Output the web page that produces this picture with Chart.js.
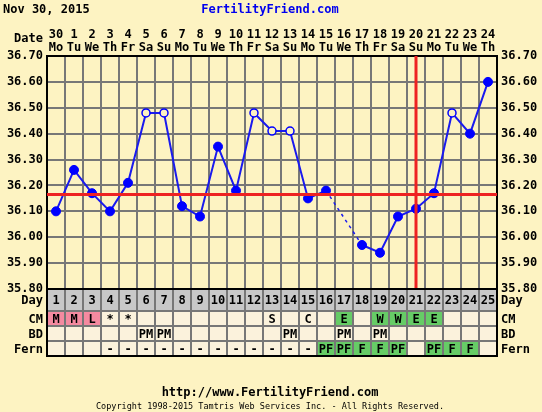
<!DOCTYPE html>
<html>
<head>
<meta charset="utf-8">
<script src="https://cdn.jsdelivr.net/npm/chart.js@4"></script>
<style>
  html, body { margin: 0; padding: 0; background: #fdf3c2; }
  #wrap { width: 542px; height: 412px; position: relative; }
</style>
</head>
<body>
<div id="wrap"><canvas id="chart" width="542" height="412"></canvas></div>
<script>
// chart values
const dates = ['30','1','2','3','4','5','6','7','8','9','10','11','12','13','14','15','16','17','18','19','20','21','22','23','24'];
const weekdays = ['Mo','Tu','We','Th','Fr','Sa','Su','Mo','Tu','We','Th','Fr','Sa','Su','Mo','Tu','We','Th','Fr','Sa','Su','Mo','Tu','We','Th'];
const temps = [36.10, 36.26, 36.17, 36.10, 36.21, 36.48, 36.48, 36.12, 36.08, 36.35, 36.18, 36.48, 36.41, 36.41, 36.15, 36.18, null, 35.97, 35.94, 36.08, 36.11, 36.17, 36.48, 36.40, 36.60];
const openDays = [6, 7, 12, 13, 14, 23];   // cycle days with hollow markers
const coverline = 36.165;
const ovulationDay = 21;
const cmRow   = ['M','M','L','*','*','','','','','','','','S','','C','','E','','W','W','E','E','','',''];
const bdRow   = ['','','','','','PM','PM','','','','','','','PM','','','PM','','PM','','','','','',''];
const fernRow = ['','','','-','-','-','-','-','-','-','-','-','-','-','-','PF','PF','F','F','PF','','PF','F','F',''];
const yTickLabels = ['35.80','35.90','36.00','36.10','36.20','36.30','36.40','36.50','36.60','36.70'];

const BG = '#fdf3c2';
const FONT = '"DejaVu Sans Mono", monospace';
const labels = dates.map((d, i) => [d, weekdays[i]]);
const isOpen = temps.map((t, i) => openDays.includes(i + 1));

function tickText(v) {
    const s = v.toFixed(2);
    return yTickLabels.includes(s) ? s : '';
}

// red coverline, ovulation line, header texts and the bottom table
const extras = {
    id: 'extras',
    afterDatasetsDraw(chart) {
        const { ctx, chartArea: a, scales } = chart;
        const y = scales.y.getPixelForValue(coverline);
        const x = scales.x.getPixelForValue(ovulationDay - 1);
        ctx.save();
        ctx.strokeStyle = '#ee2222';
        ctx.lineWidth = 3;
        ctx.beginPath();
        ctx.moveTo(a.left, y); ctx.lineTo(a.right, y);
        ctx.moveTo(x, a.top); ctx.lineTo(x, a.bottom);
        ctx.stroke();
        ctx.restore();
    },
    afterDraw(chart) {
        const { ctx, chartArea: a, scales } = chart;
        const xs = scales.x;
        const colW = xs.getPixelForValue(1) - xs.getPixelForValue(0);
        ctx.save();
        ctx.textBaseline = 'middle';

        ctx.font = 'bold 12px ' + FONT;
        ctx.fillStyle = '#000';
        ctx.textAlign = 'left';
        ctx.fillText('Nov 30, 2015', 3, 10);
        ctx.textAlign = 'center';
        ctx.fillStyle = '#0000ee';
        ctx.fillText('FertilityFriend.com', 270, 10);
        ctx.fillStyle = '#000';
        ctx.textAlign = 'right';
        ctx.fillText('Date', a.left - 4, 39);

        // table rows
        const rows = [
            { name: 'Day', top: a.bottom, h: 22, vals: dates.map((d, i) => String(i + 1)) },
            { name: 'CM', top: a.bottom + 22, h: 15, vals: cmRow },
            { name: 'BD', top: a.bottom + 37, h: 15, vals: bdRow },
            { name: 'Fern', top: a.bottom + 52, h: 15, vals: fernRow }
        ];
        rows.forEach((r, ri) => {
            r.vals.forEach((v, i) => {
                const cx = xs.getPixelForValue(i);
                let fill = '#fbf2dc';
                if (ri === 0) fill = '#c8c8c8';
                else if (ri === 1 && (v === 'M' || v === 'L')) fill = '#f48aa0';
                else if ((ri === 1 && (v === 'E' || v === 'W')) || (ri === 3 && (v === 'F' || v === 'PF'))) fill = '#66cc66';
                ctx.fillStyle = fill;
                ctx.fillRect(cx - colW / 2, r.top, colW, r.h);
                ctx.fillStyle = '#000';
                ctx.textAlign = 'center';
                ctx.fillText(v, cx, r.top + r.h / 2 + 1);
            });
            ctx.textAlign = 'right';
            ctx.fillText(r.name, a.left - 4, r.top + r.h / 2 + 1);
            ctx.textAlign = 'left';
            ctx.fillText(r.name, a.right + 4, r.top + r.h / 2 + 1);
        });
        // table grid
        const tBottom = a.bottom + 67;
        ctx.strokeStyle = '#777';
        ctx.lineWidth = 2;
        ctx.beginPath();
        for (let i = 0; i <= dates.length; i++) {
            const gx = xs.getPixelForValue(i) - colW / 2;
            ctx.moveTo(gx, a.bottom); ctx.lineTo(gx, tBottom);
        }
        [22, 37, 52].forEach(off => {
            ctx.moveTo(a.left, a.bottom + off); ctx.lineTo(a.right, a.bottom + off);
        });
        ctx.stroke();
        ctx.strokeStyle = '#000';
        ctx.beginPath();
        ctx.moveTo(a.left, a.bottom); ctx.lineTo(a.left, tBottom);
        ctx.lineTo(a.right, tBottom); ctx.lineTo(a.right, a.bottom);
        ctx.moveTo(a.left, a.bottom); ctx.lineTo(a.right, a.bottom);
        ctx.stroke();

        // footer
        ctx.fillStyle = '#000';
        ctx.textAlign = 'center';
        ctx.font = 'bold 12px ' + FONT;
        ctx.fillText('http://www.FertilityFriend.com', 270, 393);
        ctx.font = '8.5px ' + FONT;
        ctx.fillText('Copyright 1998-2015 Tamtris Web Services Inc. - All Rights Reserved.', 270, 407);
        ctx.restore();
    }
};

const bgPlugin = {
    id: 'bg',
    beforeDraw(chart) {
        const ctx = chart.ctx;
        ctx.save();
        ctx.fillStyle = BG;
        ctx.fillRect(0, 0, chart.width, chart.height);
        ctx.restore();
    }
};

new Chart(document.getElementById('chart'), {
    type: 'line',
    data: {
        labels: labels,
        datasets: [{
            data: temps,
            borderColor: '#1a1aee',
            borderWidth: 2,
            spanGaps: true,
            tension: 0,
            pointRadius: isOpen.map(o => o ? 4 : 4.5),
            pointBorderWidth: isOpen.map(o => o ? 1.5 : 1),
            pointBackgroundColor: isOpen.map(o => o ? BG : '#0000ff'),
            pointBorderColor: '#0000ff',
            segment: {
                borderDash: c => (c.p0.skip || c.p1.skip) ? [3, 4] : undefined,
                borderWidth: c => (c.p0.skip || c.p1.skip) ? 1.5 : undefined
            }
        }]
    },
    options: {
        responsive: false,
        animation: false,
        devicePixelRatio: 1,
        layout: { padding: { top: 26, bottom: 123, left: 0, right: 0 } },
        plugins: { legend: { display: false }, tooltip: { enabled: false } },
        scales: {
            x: {
                position: 'top',
                offset: true,
                grid: { color: '#777', lineWidth: 2, drawTicks: false, offset: true },
                border: { color: '#000', width: 2 },
                ticks: {
                    color: '#000',
                    font: { family: FONT, size: 12, weight: 'bold', lineHeight: 1.08 },
                    padding: 2,
                    maxRotation: 0,
                    autoSkip: false
                },
                afterFit(s) { s.height = 30; }
            },
            y: {
                min: 35.8,
                max: 36.7,
                grid: { color: '#777', lineWidth: 2, drawTicks: false },
                border: { color: '#000', width: 2 },
                ticks: {
                    stepSize: 0.05,
                    color: '#000',
                    padding: 4,
                    font: { family: FONT, size: 12, weight: 'bold' },
                    callback: v => tickText(v)
                },
                afterFit(s) { s.width = 47; }
            },
            y2: {
                position: 'right',
                min: 35.8,
                max: 36.7,
                grid: { display: false, drawTicks: false },
                border: { color: '#000', width: 2 },
                ticks: {
                    stepSize: 0.05,
                    color: '#000',
                    padding: 4,
                    font: { family: FONT, size: 12, weight: 'bold' },
                    callback: v => tickText(v)
                },
                afterFit(s) { s.width = 45; }
            }
        }
    },
    plugins: [bgPlugin, extras]
});
</script>
</body>
</html>
